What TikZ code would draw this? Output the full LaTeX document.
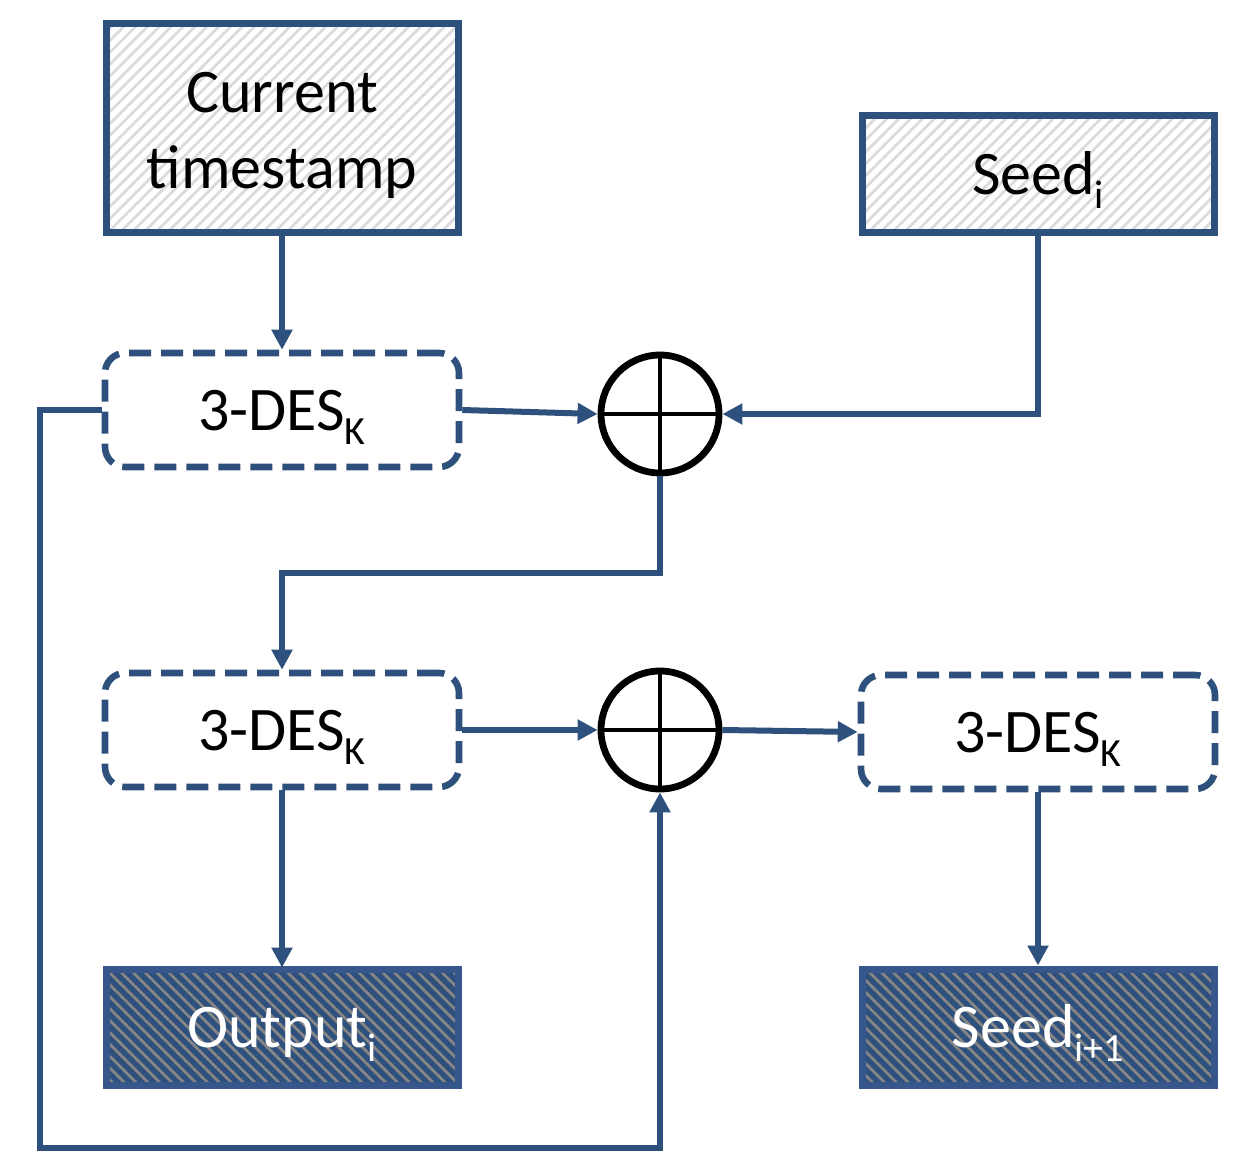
\documentclass[tikz,border=0pt]{standalone}
\usepackage{fontspec}
\setmainfont{Carlito}
\usetikzlibrary{arrows.meta,patterns.meta}
\definecolor{navy}{RGB}{46,80,125}
\definecolor{navyedge}{RGB}{54,86,140}
\colorlet{hatchlight}{gray!28}
\colorlet{hatchdark}{gray!95!white}
\tikzset{>={Triangle[length=10pt,width=10pt]}}
\tikzset{
  onerow/.style = {text height=20pt, text depth=0pt},
  srcbox/.style = {draw=navy, line width=3.5pt, inner sep=0pt,
    minimum width=176pt, minimum height=58pt, align=center,
    pattern={Lines[angle=45,distance=4.2pt,line width=1.4pt]},
    pattern color=hatchlight},
  resbox/.style = {onerow, draw=navyedge, line width=3.5pt, inner sep=0pt,
    minimum width=176pt, minimum height=58pt, text=white,
    preaction={fill=navy},
    pattern={Lines[angle=-45,distance=4.2pt,line width=1.4pt]},
    pattern color=hatchdark},
  desbox/.style = {onerow, draw=navy, line width=3.3pt, rounded corners=10pt,
    dash pattern=on 11pt off 5pt, inner sep=0pt,
    minimum width=177pt, minimum height=57pt},
  xorop/.style = {circle, draw=black, line width=3.4pt, inner sep=0pt,
    minimum size=59pt,
    path picture={\draw[line width=2.2pt]
      (path picture bounding box.north) -- (path picture bounding box.south)
      (path picture bounding box.west) -- (path picture bounding box.east);}},
  link/.style = {draw=navy, line width=3pt}
}
\newcommand{\lowsub}[1]{\raisebox{-7pt}{\fontsize{20}{22}\selectfont #1}}
\newcommand{\DESk}{3-DES\lowsub{K}}

\begin{document}
\begin{tikzpicture}[x=0.5pt,y=-0.5pt,font=\fontsize{31}{38}\selectfont]
  \useasboundingbox (0,0) rectangle (1258,1172);
  % inputs
  \node[srcbox,minimum height=104pt] (ts) at (282,128)
    {\rule{0pt}{27pt}Current\\timestamp};
  \node[srcbox,onerow] (seedi) at (1038,174) {Seed\lowsub{i}};
  % encryption stages
  \node[desbox] (desA) at (282,410) {\DESk};
  \node[xorop] (xorA) at (660,414) {};
  \node[desbox] (desB) at (282,730) {\DESk};
  \node[xorop] (xorB) at (660,730) {};
  \node[desbox] (desC) at (1038,732) {\DESk};
  % outputs
  \node[resbox] (out) at (282,1027) {Output\lowsub{i}};
  \node[resbox] (seedn) at (1038,1027) {Seed\lowsub{i+1}};
  \coordinate (loop) at (40,1148);
  % connectors
  \draw[link,->] (ts) -- (desA);
  \draw[link,->] (desA.east) -- (xorA.west);
  \draw[link,->] (seedi.south) |- (xorA.east);
  \draw[link,->] (xorA.south) -- ++(0,97) -| (desB.north);
  \draw[link,->] (desA.west) -| (loop) -| (xorB.south);
  \draw[link,->] (desB.east) -- (xorB.west);
  \draw[link,->] (xorB.east) -- (desC.west);
  \draw[link,->] (desB) -- (out);
  \draw[link,->] (desC) -- (seedn);
\end{tikzpicture}
\end{document}
